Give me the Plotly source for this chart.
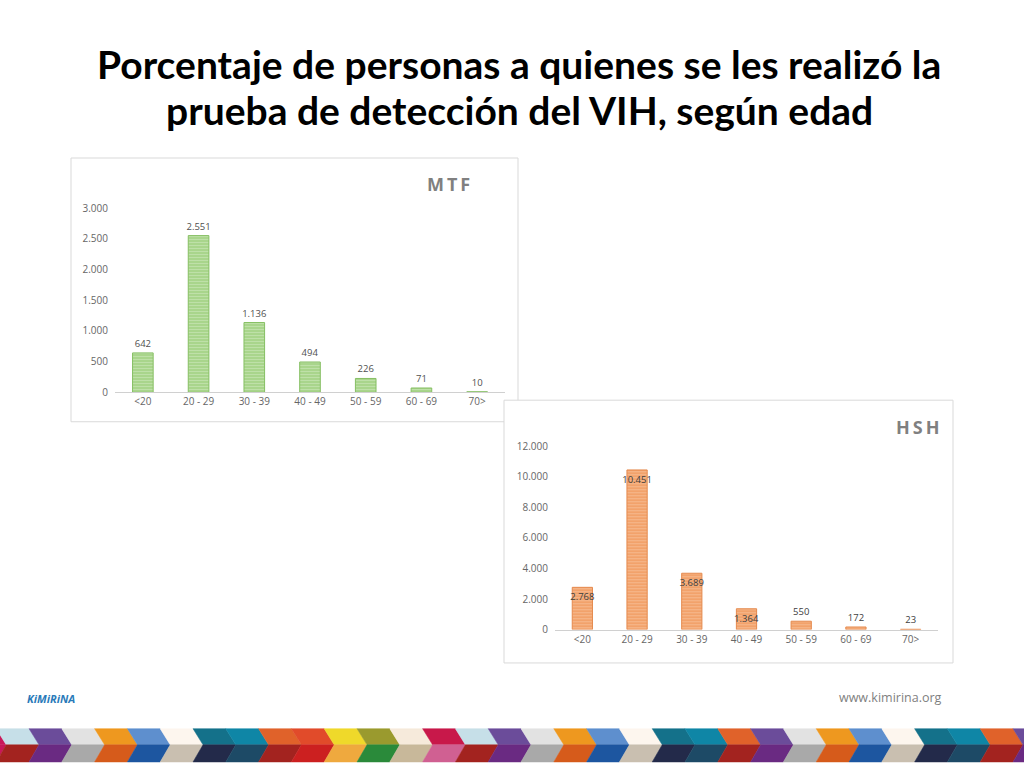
import plotly.graph_objects as go

# ---------------- data ----------------
age_groups = ["<20", "20 - 29", "30 - 39", "40 - 49", "50 - 59", "60 - 69", "70>"]
mtf_values = [642, 2551, 1136, 494, 226, 71, 10]
hsh_values = [2768, 10451, 3689, 1364, 550, 172, 23]
mtf_ticks = [0, 500, 1000, 1500, 2000, 2500, 3000]
hsh_ticks = [0, 2000, 4000, 6000, 8000, 10000, 12000]

title_line1 = "Porcentaje de personas a quienes se les realizó la"
title_line2 = "prueba de detección del VIH, según edad"

W, H = 1024, 768
def X(px):
    return px / W
def Y(py):
    return 1 - py / H

GREY = "#666666"
FONT = "Open Sans"

fig = go.Figure()

fig.add_trace(go.Bar(
    x=age_groups, y=mtf_values, xaxis="x", yaxis="y",
    marker=dict(color="#a9d58c", line=dict(color="#86bf63", width=1),
                pattern=dict(shape="-", fgcolor="#d3ebc3", size=3, solidity=0.35)),
    text=mtf_values, texttemplate="%{y:,d}", textposition="outside",
    textfont=dict(family=FONT, size=9.5, color="#505050"),
    constraintext="none", textangle=0, cliponaxis=False, showlegend=False,
))

hsh_pos = ["inside" if v > 0.1 * max(hsh_values) else "outside" for v in hsh_values]
fig.add_trace(go.Bar(
    x=age_groups, y=hsh_values, xaxis="x2", yaxis="y2",
    marker=dict(color="#f2a26b", line=dict(color="#e58a4e", width=1),
                pattern=dict(shape="-", fgcolor="#f9cfb1", size=3, solidity=0.35)),
    text=hsh_values, texttemplate="%{y:,d}", textposition=hsh_pos,
    insidetextanchor="end",
    textfont=dict(family=FONT, size=9.5, color="#404040"),
    insidetextfont=dict(family=FONT, size=9.5, color="#404040"),
    outsidetextfont=dict(family=FONT, size=9.5, color="#404040"),
    constraintext="none", textangle=0, cliponaxis=False, showlegend=False,
))

axis_common = dict(showgrid=False, zeroline=False, ticks="", fixedrange=True,
                   tickfont=dict(family=FONT, size=10, color=GREY))

fig.update_layout(
    width=W, height=H, margin=dict(l=0, r=0, t=0, b=0),
    paper_bgcolor="white", plot_bgcolor="rgba(0,0,0,0)",
    separators=",.", bargap=0.63,
    xaxis=dict(domain=[X(115), X(505)], anchor="y", showline=True,
               linecolor="#d0d0d0", linewidth=1, **axis_common),
    yaxis=dict(domain=[Y(392), Y(204)], anchor="x", range=[0, 3000],
               tickvals=mtf_ticks, tickformat=",d", showline=False,
               ticklabelstandoff=6, **axis_common),
    xaxis2=dict(domain=[X(555), X(938)], anchor="y2", showline=True,
                linecolor="#d0d0d0", linewidth=1, **axis_common),
    yaxis2=dict(domain=[Y(634), Y(447)], anchor="x2", range=[0, 12000],
                tickvals=hsh_ticks, tickformat=",d", showline=False,
                ticklabelstandoff=6, **axis_common),
)

shapes = []
# chart frames
shapes.append(dict(type="rect", xref="paper", yref="paper", x0=X(71), x1=X(518), y0=Y(422), y1=Y(153),
                   line=dict(color="#d9d9d9", width=1), fillcolor="white", layer="below"))
shapes.append(dict(type="rect", xref="paper", yref="paper", x0=X(504), x1=X(953), y0=Y(668), y1=Y(400),
                   line=dict(color="#d9d9d9", width=1), fillcolor="white", layer="below"))

# decorative chevron band at the bottom of the slide
top_cols = ["#c8185a", "#c6dfe8", "#6b4c9a", "#e2e2e2", "#ee981f", "#5e8fce", "#fdf6ee", "#14718a",
            "#0f86a6", "#e0622a", "#e14b2a", "#efd92a", "#9a9a2e", "#f6eadb", "#c8184a", "#c6dfe8",
            "#6b4c9a", "#e2e2e2", "#ee981f", "#5e8fce", "#fdf6ee", "#14718a", "#0f86a6", "#e0622a",
            "#6b4c9a", "#e2e2e2", "#ee981f", "#5e8fce", "#fdf6ee", "#14718a", "#0f86a6", "#e0622a",
            "#6b4c9a"]
bot_cols = ["#c8185a", "#a3231f", "#6a2a82", "#a9a9a9", "#d65b1b", "#1d56a0", "#c9bfb0", "#232a4a",
            "#1d4a66", "#a3231f", "#cc2020", "#efa93e", "#2a8a3a", "#c8b89a", "#d06092", "#a3231f",
            "#6a2a82", "#a9a9a9", "#d65b1b", "#1d56a0", "#c9bfb0", "#232a4a", "#1d4a66", "#a3231f",
            "#6a2a82", "#a9a9a9", "#d65b1b", "#1d56a0", "#c9bfb0", "#232a4a", "#1d4a66", "#a3231f",
            "#6a2a82"]
period, start, slant = 32.8, 29 - 2 * 32.8, 10
ytop, ymid, ybot = 735, 751.5, 769
for k in range(len(top_cols)):
    a = start + k * period
    b = a + period
    p_top = f"M {X(a)},{Y(ytop)} L {X(b)},{Y(ytop)} L {X(b + slant)},{Y(ymid)} L {X(a + slant)},{Y(ymid)} Z"
    p_bot = f"M {X(a + slant)},{Y(ymid)} L {X(b + slant)},{Y(ymid)} L {X(b)},{Y(ybot)} L {X(a)},{Y(ybot)} Z"
    shapes.append(dict(type="path", xref="paper", yref="paper", path=p_top,
                       fillcolor=top_cols[k], line=dict(width=0.5, color=top_cols[k]), layer="above"))
    shapes.append(dict(type="path", xref="paper", yref="paper", path=p_bot,
                       fillcolor=bot_cols[k], line=dict(width=0.5, color=bot_cols[k]), layer="above"))
fig.update_layout(shapes=shapes)

annotations = [
    dict(text=f"<b>{title_line1}</b>", x=X(519), y=Y(57.5), xref="paper", yref="paper",
         showarrow=False, xanchor="center", yanchor="middle",
         font=dict(family="Lato", size=39, color="black")),
    dict(text=f"<b>{title_line2}</b>", x=X(519), y=Y(104.5), xref="paper", yref="paper",
         showarrow=False, xanchor="center", yanchor="middle",
         font=dict(family="Lato", size=39, color="black")),
    dict(text="<b>M\u2009T\u2009F</b>", x=X(448), y=Y(180), xref="paper", yref="paper",
         showarrow=False, xanchor="center", yanchor="middle",
         font=dict(family=FONT, size=18, color="#808080")),
    dict(text="<b>H\u2009S\u2009H</b>", x=X(917), y=Y(427), xref="paper", yref="paper",
         showarrow=False, xanchor="center", yanchor="middle",
         font=dict(family=FONT, size=18, color="#808080")),
    dict(text="www.kimirina.org", x=X(890), y=Y(703), xref="paper", yref="paper",
         showarrow=False, xanchor="center", yanchor="middle",
         font=dict(family=FONT, size=12.5, color="#7f7f7f")),
    dict(text="<b><i>KiMiRiNA</i></b>", x=X(51), y=Y(704), xref="paper", yref="paper",
         showarrow=False, xanchor="center", yanchor="middle",
         font=dict(family=FONT, size=11, color="#2a7ab9")),
]
fig.update_layout(annotations=annotations)

fig.write_html("out.html", config={"displayModeBar": False},
               post_script="document.body.style.margin='0px';")
